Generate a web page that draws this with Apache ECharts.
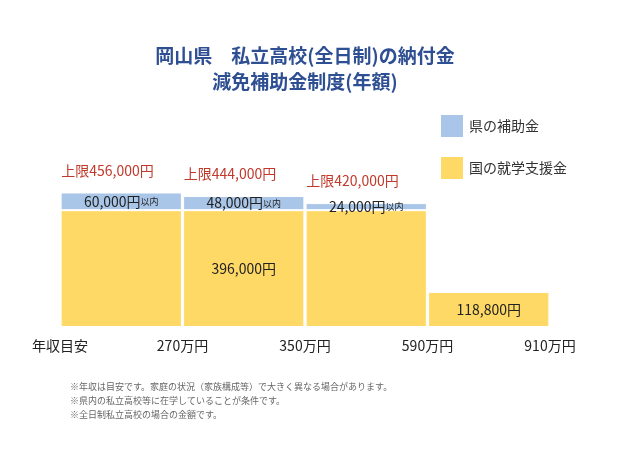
<!DOCTYPE html>
<html>
<head>
<meta charset="utf-8">
<script src="https://cdn.jsdelivr.net/npm/echarts@6/dist/echarts.min.js"></script>
<style>html,body{margin:0;padding:0;background:#fff}#chart{width:640px;height:467px}</style>
</head>
<body>
<div id="chart"></div>
<script>
var categories = ['~270万円', '270~350万円', '350~590万円', '590~910万円'];
var boundaryLabels = ['年収目安', '270万円', '350万円', '590万円', '910万円'];
var nationalAid = [396000, 396000, 396000, 118800];
var prefAid = [60000, 48000, 24000, null];
var upperLimits = [456000, 444000, 420000, null];
var font = '"Noto Sans CJK JP", sans-serif';

function yen(v) { return v.toLocaleString('en-US'); }

var myChart = echarts.init(document.getElementById('chart'));

var limitPoints = [];
for (var i = 0; i < upperLimits.length; i++) {
	if (upperLimits[i] !== null) limitPoints.push({ coord: [i, upperLimits[i]], value: upperLimits[i] });
}

var option = {
	textStyle: { fontFamily: font },
	title: {
		text: '岡山県　私立高校(全日制)の納付金\n減免補助金制度(年額)',
		left: 300, top: 38, textAlign: 'center',
		textStyle: { color: '#2f4f93', fontSize: 19, fontWeight: 'bold', lineHeight: 26, fontFamily: font }
	},
	legend: {
		orient: 'vertical', left: 434, top: 108, itemGap: 16,
		itemWidth: 24, itemHeight: 24, icon: 'rect',
		data: ['県の補助金', '国の就学支援金'],
		textStyle: { fontSize: 14, color: '#333', fontFamily: font }
	},
	grid: { left: 60, right: 90, top: 91, bottom: 140 },
	xAxis: [
		{ type: 'category', data: categories, show: false },
		{ type: 'value', min: 0, max: 4, interval: 1, position: 'bottom',
		  axisLine: { show: false }, axisTick: { show: false }, splitLine: { show: false },
		  axisLabel: { margin: 12, fontSize: 14, color: '#222', fontFamily: font,
		  	formatter: function (v) { return boundaryLabels[v]; } } }
	],
	yAxis: { type: 'value', min: 0, max: 800000, show: false },
	series: [
		{
			name: '国の就学支援金', type: 'bar', stack: 'a', barCategoryGap: '1%',
			itemStyle: { color: '#ffd966', borderColor: '#fff', borderWidth: 1 },
			data: nationalAid.map(function (v, i) {
				return { value: v, label: { show: i === 1 || i === 3 } };
			}),
			label: { position: 'inside', fontSize: 14, color: '#222', fontFamily: font,
				formatter: function (p) { return yen(p.value) + '円'; } }
		},
		{
			name: '県の補助金', type: 'bar', stack: 'a',
			itemStyle: { color: '#a9c6e8', borderColor: '#fff', borderWidth: 1 },
			data: prefAid,
			label: { show: true, position: 'inside', color: '#222', fontFamily: font,
				formatter: function (p) { return '{a|' + yen(p.value) + '円}{b|以内}'; },
				rich: { a: { fontSize: 14, fontFamily: font, color: '#222' }, b: { fontSize: 9, fontFamily: font, color: '#222' } } },
			markPoint: {
				symbol: 'circle', symbolSize: 2,
				itemStyle: { color: 'rgba(0,0,0,0)' },
				data: limitPoints,
				label: { show: true, position: [-59, -28], color: '#c0392b', fontSize: 14, fontFamily: font,
					formatter: function (p) { return '上限' + yen(p.value) + '円'; } }
			}
		}
	],
	graphic: [{
		type: 'text', left: 70, top: 380,
		style: { text: '※年収は目安です。家庭の状況（家族構成等）で大きく異なる場合があります。\n※県内の私立高校等に在学していることが条件です。\n※全日制私立高校の場合の金額です。',
			fill: '#666', fontSize: 9, lineHeight: 14, fontFamily: font }
	}]
};

myChart.setOption(option);
</script>
</body>
</html>
